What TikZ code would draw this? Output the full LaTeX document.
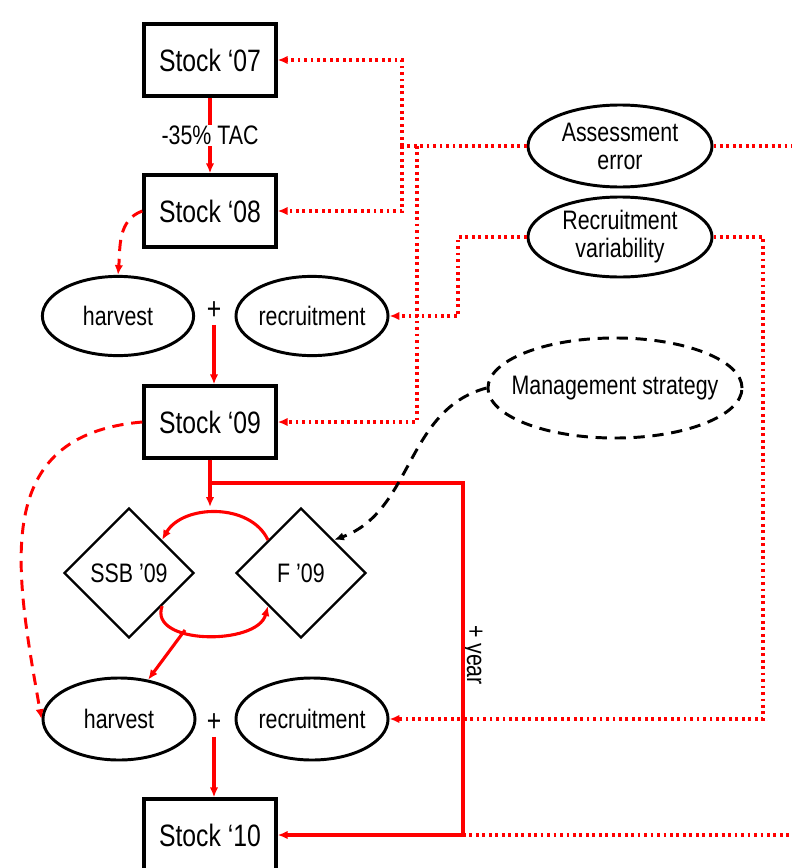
\documentclass[tikz,border=0pt]{standalone}
\usepackage{fontspec}
\setmainfont{Liberation Sans}[FakeStretch=0.8]
\usetikzlibrary{shapes.geometric}
\usetikzlibrary{arrows.meta}

\tikzset{
	stock/.style={draw, line width=2.4pt, minimum width=3.3cm, minimum height=1.8cm, inner sep=0pt, font=\fontsize{22}{24}\selectfont},
	oval/.style={ellipse, draw, line width=2.1pt, inner sep=0pt, align=center, font=\fontsize{19}{20}\selectfont},
	dia/.style={diamond, draw, line width=1.7pt, minimum width=3.25cm, minimum height=3.25cm, inner sep=0pt, font=\fontsize{19}{20}\selectfont},
	tip/.style={-{Latex[length=7pt,width=6pt]}},
	redline/.style={red, line width=2.2pt},
	redarrow/.style={red, line width=2.2pt, tip},
	reddash/.style={red, line width=2.1pt, dash pattern=on 8pt off 5.5pt, tip},
	reddot/.style={red, line width=2.2pt, dash pattern=on 2pt off 2.6pt},
	blackdash/.style={black, line width=2.1pt, dash pattern=on 8pt off 5.5pt, tip}
}

\begin{document}
\begin{tikzpicture}[x=0.025cm, y=0.025cm, font=\fontsize{19}{20}\selectfont]
	\useasboundingbox (0,0) rectangle (792,-868);
	% stocks
	\node[stock] (S07) at (210,-60) {Stock `07};
	\node[stock] (S08) at (210,-211) {Stock `08};
	\node[stock] (S09) at (210,-422) {Stock `09};
	\node[stock] (S10) at (210,-835) {Stock `10};
	% first year
	\node[oval, minimum width=3.78cm, minimum height=1.98cm] (H1) at (118,-316) {harvest};
	\node[oval, minimum width=3.8cm, minimum height=1.98cm] (R1) at (312,-316) {recruitment};
	\node[font=\fontsize{22}{24}\selectfont] (P1) at (214,-311) {+};
	% uncertainty
	\node[oval, minimum width=4.6cm, minimum height=2.05cm] (AE) at (620,-146) {Assessment\\error};
	\node[oval, minimum width=4.6cm, minimum height=2.0cm] (RV) at (620,-237) {Recruitment\\variability};
	\node[oval, dash pattern=on 8pt off 5.5pt, inner xsep=-14pt, minimum width=6.35cm, minimum height=2.5cm] (MS) at (615,-388) {Management strategy};
	% second year
	\node[dia] (SSB) at (129,-573) {SSB '09};
	\node[dia] (F) at (301,-573) {F '09};
	\node[oval, minimum width=3.8cm, minimum height=2.05cm] (H2) at (119,-719) {harvest};
	\node[oval, minimum width=3.8cm, minimum height=2.05cm] (R2) at (312,-719) {recruitment};
	\node[font=\fontsize{22}{24}\selectfont] (P2) at (214,-723) {+};
	\node[rotate=-90, anchor=base] (Y) at (467,-655) {+ year};

	\coordinate (A1) at (402,-146);
	\coordinate (A2) at (417,-146);
	\coordinate (A3) at (792,-146);
	\coordinate (B1) at (458,-237);
	\coordinate (B2) at (763,-237);
	\coordinate (C1) at (210,-483);
	\coordinate (C2) at (463,-483);
	\coordinate (C3) at (463,-835);
	\coordinate (C4) at (792,-835);
	\coordinate (C5) at (210,-507);
	\coordinate (C6) at (185,-630);

	\draw[redarrow] (S07) -- node[fill=white, text=black, inner sep=1pt] {-35\% TAC} (S08);
	\draw[reddash] (S08.west) to[out=200, in=85] (H1.north);
	\draw[redarrow] (P1) -- (P1 |- S09.north);
	\draw[redarrow] (S09.south) -- (C5);
	\draw[redline] (S09.south) -- (C1) -- (C2) -- (C3);
	\draw[redarrow] (C3) -- (S10.east);
	\draw[redarrow] (F.north west) to[out=115, in=60] (SSB.north east);
	\draw[redarrow] (SSB.south east) to[out=-110, in=-105] (F.south west);
	\draw[redarrow] (C6) -- (H2);
	\draw[reddash] (S09.west) to[out=185, in=100, looseness=1.25] (H2.west);
	\draw[redarrow] (P2) -- (P2 |- S10.north);
	\draw[blackdash] (MS.west) to[out=195, in=20] (F.north east);

	% dotted links
	\draw[reddot] (AE.west) -- (A1);
	\draw[reddot, tip] (A1) |- (S07.east);
	\draw[reddot, tip] (A1) |- (S08.east);
	\draw[reddot, tip] (A2) |- (S09.east);
	\draw[reddot] (AE.east) -- (A3);
	\draw[reddot, tip] (RV.west) -- (B1) |- (R1.east);
	\draw[reddot, tip] (RV.east) -- (B2) |- (R2.east);
	\draw[reddot] (C3) -- (C4);
\end{tikzpicture}
\end{document}
